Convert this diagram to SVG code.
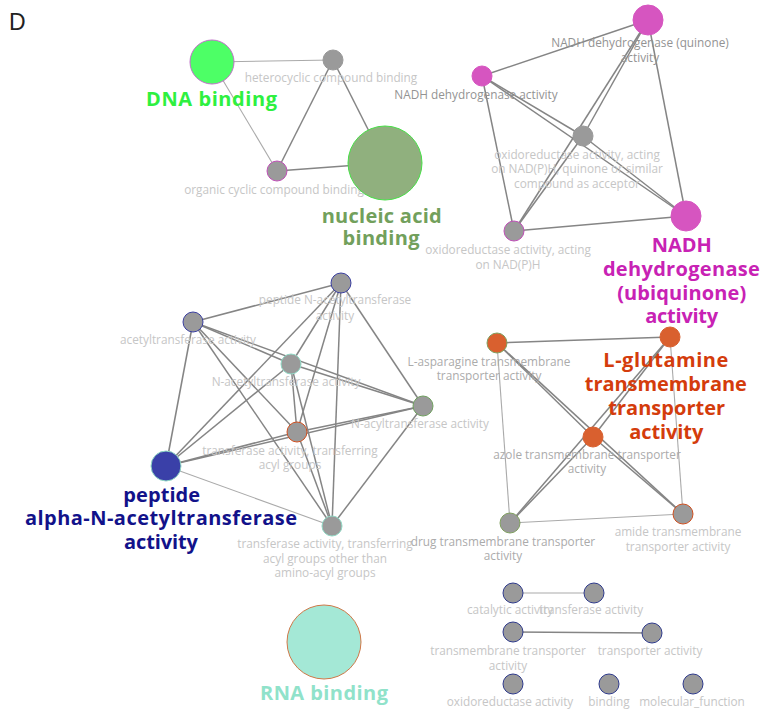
<svg xmlns="http://www.w3.org/2000/svg" width="761" height="713" viewBox="0 0 761 713">
  <style>
    .edge { stroke: #858585; stroke-width: 1.5; fill: none; }
    .thin { stroke: #aaaaaa; stroke-width: 1.1; fill: none; }
    .g { fill: #9a9a9a; stroke-width: 1; }
    .lbl { font-family: "Open Sans", "Liberation Sans", sans-serif; font-size: 11.8px; fill: #c6c6c6; text-anchor: middle; }
    .lbl.dk { fill: #939393; }
    .lbl.md { fill: #ababab; }
    .big { font-family: "Open Sans", "Liberation Sans", sans-serif; font-size: 20px; font-weight: bold; text-anchor: middle; }
  </style>
  <rect width="761" height="713" fill="#ffffff"/>
  <text x="9" y="30" font-family="Liberation Sans, Arial, sans-serif" font-size="23" fill="#222">D</text>

  <g id="connectors">
    <!-- binding cluster -->
    <line class="thin" x1="212" y1="62" x2="333" y2="60"/>
    <line class="thin" x1="212" y1="62" x2="277" y2="171"/>
    <line class="edge" x1="333" y1="60" x2="277" y2="171"/>
    <line class="edge" x1="333" y1="60" x2="385" y2="163"/>
    <line class="edge" x1="277" y1="171" x2="385" y2="163"/>
    <!-- NADH cluster -->
    <line class="edge" x1="482" y1="76" x2="648" y2="20"/>
    <line class="edge" x1="482" y1="76" x2="583" y2="136"/>
    <line class="edge" x1="482" y1="76" x2="514" y2="231"/>
    <line class="edge" x1="482" y1="76" x2="686" y2="216"/>
    <line class="edge" x1="648" y1="20" x2="583" y2="136"/>
    <line class="edge" x1="648" y1="20" x2="514" y2="231"/>
    <line class="edge" x1="648" y1="20" x2="686" y2="216"/>
    <line class="edge" x1="583" y1="136" x2="514" y2="231"/>
    <line class="edge" x1="583" y1="136" x2="686" y2="216"/>
    <line class="edge" x1="514" y1="231" x2="686" y2="216"/>
    <!-- acetyltransferase cluster -->
    <line class="edge" x1="193" y1="322" x2="341" y2="283"/>
    <line class="edge" x1="193" y1="322" x2="291" y2="364"/>
    <line class="edge" x1="193" y1="322" x2="423" y2="406"/>
    <line class="edge" x1="193" y1="322" x2="297" y2="432"/>
    <line class="edge" x1="193" y1="322" x2="166" y2="466"/>
    <line class="edge" x1="193" y1="322" x2="332" y2="526"/>
    <line class="edge" x1="341" y1="283" x2="291" y2="364"/>
    <line class="edge" x1="341" y1="283" x2="423" y2="406"/>
    <line class="edge" x1="341" y1="283" x2="297" y2="432"/>
    <line class="edge" x1="341" y1="283" x2="166" y2="466"/>
    <line class="edge" x1="341" y1="283" x2="332" y2="526"/>
    <line class="edge" x1="291" y1="364" x2="423" y2="406"/>
    <line class="edge" x1="291" y1="364" x2="297" y2="432"/>
    <line class="edge" x1="291" y1="364" x2="166" y2="466"/>
    <line class="edge" x1="291" y1="364" x2="332" y2="526"/>
    <line class="edge" x1="423" y1="406" x2="297" y2="432"/>
    <line class="edge" x1="423" y1="406" x2="166" y2="466"/>
    <line class="edge" x1="423" y1="406" x2="332" y2="526"/>
    <line class="edge" x1="297" y1="432" x2="166" y2="466"/>
    <line class="edge" x1="297" y1="432" x2="332" y2="526"/>
    <line class="thin" x1="166" y1="466" x2="332" y2="526"/>
    <!-- transporter cluster -->
    <line class="edge" x1="497" y1="343" x2="670" y2="337"/>
    <line class="thin" x1="497" y1="343" x2="510" y2="523"/>
    <line class="edge" x1="497" y1="343" x2="593" y2="437"/>
    <line class="edge" x1="497" y1="343" x2="683" y2="514"/>
    <line class="thin" x1="670" y1="337" x2="683" y2="514"/>
    <line class="edge" x1="670" y1="337" x2="593" y2="437"/>
    <line class="edge" x1="670" y1="337" x2="510" y2="523"/>
    <line class="edge" x1="593" y1="437" x2="510" y2="523"/>
    <line class="edge" x1="593" y1="437" x2="683" y2="514"/>
    <line class="thin" x1="510" y1="523" x2="683" y2="514"/>
    <!-- general terms -->
    <line class="thin" x1="513" y1="593" x2="594" y2="593" stroke="#c8c8c8"/>
    <line class="edge" x1="513" y1="632" x2="652" y2="633"/>
  </g>

  <g id="dna-binding">
    <circle cx="212" cy="62" r="22" fill="#4dff66" stroke="#c070c8"/>
    <text class="big" x="211.5" y="106" fill="#2ef040" textLength="131" lengthAdjust="spacing">DNA binding</text>
  </g>
  <g id="heterocyclic-compound-binding">
    <circle class="g" cx="333" cy="60" r="10" stroke="#999"/>
    <text class="lbl" x="331" y="82">heterocyclic compound binding</text>
  </g>
  <g id="organic-cyclic-compound-binding">
    <circle class="g" cx="277" cy="171" r="10" stroke="#c050b8"/>
    <text class="lbl" x="274" y="194">organic cyclic compound binding</text>
  </g>
  <g id="nucleic-acid-binding">
    <circle cx="385" cy="163" r="37" fill="#90b07e" stroke="#48e048"/>
    <text class="big" fill="#72a05c"><tspan x="381.7" y="223" textLength="120" lengthAdjust="spacing">nucleic acid</tspan><tspan x="381" y="245" textLength="77" lengthAdjust="spacing">binding</tspan></text>
  </g>

  <g id="nadh-dehydrogenase-quinone">
    <circle cx="648" cy="20" r="15" fill="#d655c0" stroke="#d655c0"/>
    <text class="lbl dk"><tspan x="640" y="47">NADH dehydrogenase (quinone)</tspan><tspan x="640" y="62">activity</tspan></text>
  </g>
  <g id="nadh-dehydrogenase-activity">
    <circle cx="482" cy="76" r="10" fill="#d655c0" stroke="#d655c0"/>
    <text class="lbl dk" x="476" y="99">NADH dehydrogenase activity</text>
  </g>
  <g id="oxidoreductase-quinone">
    <circle class="g" cx="583" cy="136" r="10" stroke="#999"/>
    <text class="lbl"><tspan x="577" y="159">oxidoreductase activity, acting</tspan><tspan x="577" y="173">on NAD(P)H, quinone or similar</tspan><tspan x="577" y="188">compound as acceptor</tspan></text>
  </g>
  <g id="oxidoreductase-nadph">
    <circle class="g" cx="514" cy="231" r="10" stroke="#c050b8"/>
    <text class="lbl"><tspan x="508" y="254">oxidoreductase activity, acting</tspan><tspan x="508" y="269">on NAD(P)H</tspan></text>
  </g>
  <g id="nadh-dehydrogenase-ubiquinone">
    <circle cx="686" cy="216" r="15" fill="#d655c0" stroke="#d655c0"/>
    <text class="big" fill="#c822b4"><tspan x="681.7" y="252" textLength="60" lengthAdjust="spacing">NADH</tspan><tspan x="681.4" y="276" textLength="157" lengthAdjust="spacing">dehydrogenase</tspan><tspan x="681.7" y="300" textLength="129" lengthAdjust="spacing">(ubiquinone)</tspan><tspan x="681.7" y="323" textLength="73" lengthAdjust="spacing">activity</tspan></text>
  </g>

  <g id="peptide-n-acetyltransferase">
    <circle class="g" cx="341" cy="283" r="10" stroke="#3a3fa0"/>
    <text class="lbl"><tspan x="335" y="304">peptide N-acetyltransferase</tspan><tspan x="335" y="320">activity</tspan></text>
  </g>
  <g id="acetyltransferase">
    <circle class="g" cx="193" cy="322" r="10" stroke="#3a3fa0"/>
    <text class="lbl" x="188" y="344">acetyltransferase activity</text>
  </g>
  <g id="n-acetyltransferase">
    <circle class="g" cx="291" cy="364" r="10" stroke="#90d8c4"/>
    <text class="lbl" x="286" y="386">N-acetyltransferase activity</text>
  </g>
  <g id="n-acyltransferase">
    <circle class="g" cx="423" cy="406" r="10" stroke="#70a060"/>
    <text class="lbl" x="420" y="428">N-acyltransferase activity</text>
  </g>
  <g id="transferase-acyl">
    <circle class="g" cx="297" cy="432" r="10" stroke="#d05020"/>
    <text class="lbl"><tspan x="290" y="455">transferase activity, transferring</tspan><tspan x="290" y="469">acyl groups</tspan></text>
  </g>
  <g id="peptide-alpha-n-acetyltransferase">
    <circle cx="166" cy="466" r="15" fill="#3a40a8" stroke="#90d8c4"/>
    <text class="big" fill="#12128a"><tspan x="161.7" y="502" textLength="77" lengthAdjust="spacing">peptide</tspan><tspan x="161" y="525" textLength="272" lengthAdjust="spacing">alpha-N-acetyltransferase</tspan><tspan x="161" y="549" textLength="74" lengthAdjust="spacing">activity</tspan></text>
  </g>
  <g id="transferase-acyl-non-amino">
    <circle class="g" cx="332" cy="526" r="10" stroke="#90d8c4"/>
    <text class="lbl"><tspan x="325" y="548">transferase activity, transferring</tspan><tspan x="325" y="563">acyl groups other than</tspan><tspan x="325" y="577">amino-acyl groups</tspan></text>
  </g>

  <g id="l-asparagine-transporter">
    <circle cx="497" cy="343" r="10" fill="#d9602f" stroke="#80a060"/>
    <text class="lbl md"><tspan x="489" y="366">L-asparagine transmembrane</tspan><tspan x="489" y="380">transporter activity</tspan></text>
  </g>
  <g id="l-glutamine-transporter">
    <circle cx="670" cy="337" r="10" fill="#d9602f" stroke="#d9602f"/>
    <text class="big" fill="#d43c0c"><tspan x="665.8" y="367" textLength="125" lengthAdjust="spacing">L-glutamine</tspan><tspan x="665.8" y="391" textLength="162" lengthAdjust="spacing">transmembrane</tspan><tspan x="666.7" y="415" textLength="117" lengthAdjust="spacing">transporter</tspan><tspan x="666.3" y="439" textLength="74" lengthAdjust="spacing">activity</tspan></text>
  </g>
  <g id="azole-transporter">
    <circle cx="593" cy="437" r="10" fill="#d9602f" stroke="#d9602f"/>
    <text class="lbl md"><tspan x="587" y="459">azole transmembrane transporter</tspan><tspan x="587" y="473">activity</tspan></text>
  </g>
  <g id="drug-transporter">
    <circle class="g" cx="510" cy="523" r="10" stroke="#80a060"/>
    <text class="lbl md"><tspan x="503" y="546">drug transmembrane transporter</tspan><tspan x="503" y="560">activity</tspan></text>
  </g>
  <g id="amide-transporter">
    <circle class="g" cx="683" cy="514" r="10" stroke="#d05020"/>
    <text class="lbl"><tspan x="678" y="536">amide transmembrane</tspan><tspan x="678" y="551">transporter activity</tspan></text>
  </g>

  <g id="rna-binding">
    <circle cx="324" cy="642" r="37" fill="#a4e8d6" stroke="#d07848"/>
    <text class="big" x="324" y="700" fill="#90e2ca" textLength="128" lengthAdjust="spacing">RNA binding</text>
  </g>
  <g id="catalytic-activity">
    <circle class="g" cx="513" cy="593" r="10" stroke="#2e3a8c"/>
    <text class="lbl" x="510" y="614">catalytic activity</text>
  </g>
  <g id="transferase-activity">
    <circle class="g" cx="594" cy="593" r="10" stroke="#2e3a8c"/>
    <text class="lbl" x="591" y="614">transferase activity</text>
  </g>
  <g id="transmembrane-transporter">
    <circle class="g" cx="513" cy="632" r="10" stroke="#2e3a8c"/>
    <text class="lbl"><tspan x="508" y="655">transmembrane transporter</tspan><tspan x="508" y="670">activity</tspan></text>
  </g>
  <g id="transporter-activity">
    <circle class="g" cx="652" cy="633" r="10" stroke="#2e3a8c"/>
    <text class="lbl" x="650" y="655">transporter activity</text>
  </g>
  <g id="oxidoreductase-activity">
    <circle class="g" cx="513" cy="684" r="10" stroke="#2e3a8c"/>
    <text class="lbl" x="510" y="706">oxidoreductase activity</text>
  </g>
  <g id="binding">
    <circle class="g" cx="609" cy="684" r="10" stroke="#2e3a8c"/>
    <text class="lbl" x="609" y="706">binding</text>
  </g>
  <g id="molecular-function">
    <circle class="g" cx="693" cy="684" r="10" stroke="#2e3a8c"/>
    <text class="lbl" x="692" y="706">molecular_function</text>
  </g>
</svg>
